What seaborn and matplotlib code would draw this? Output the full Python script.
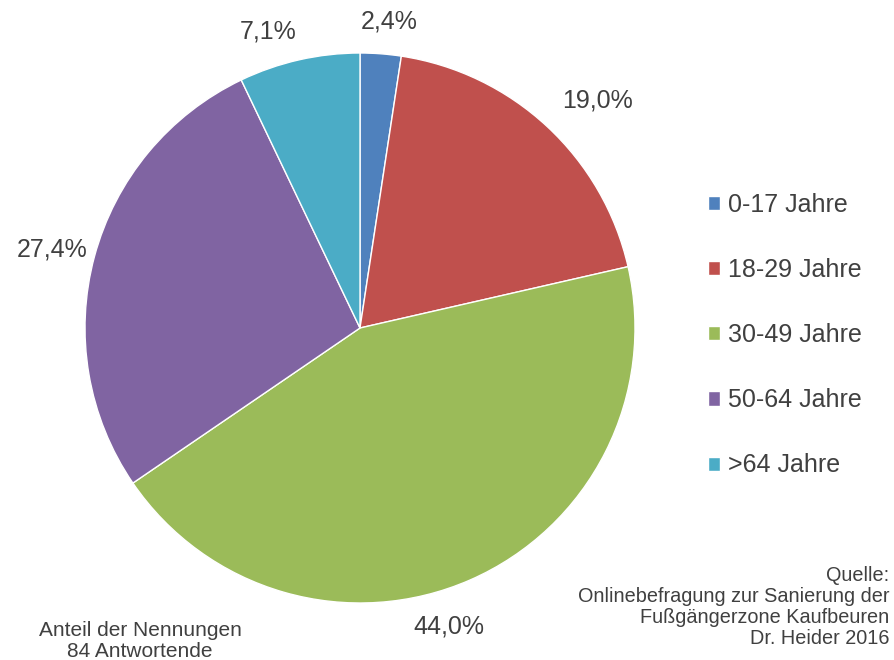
import matplotlib
matplotlib.use("Agg")
import matplotlib.pyplot as plt
import seaborn as sns

sns.set_style("white")
plt.rcParams['font.family'] = ['Liberation Sans', 'DejaVu Sans']

# data
age_groups = ['0-17 Jahre', '18-29 Jahre', '30-49 Jahre', '50-64 Jahre', '>64 Jahre']
shares = [2.4, 19.0, 44.0, 27.4, 7.1]
colors = sns.color_palette(['#4F81BD', '#C0504D', '#9BBB59', '#8064A2', '#4BACC6'])
text_color = '#404040'

# where the percentage labels sit (in units of the pie radius)
label_pos = [(0.105, 1.115), (0.862, 0.829), (0.324, -1.087), (-1.12, 0.284), (-0.335, 1.08)]

fig = plt.figure(figsize=(8.94, 6.60), dpi=100)
ax = fig.add_axes([85 / 894, 57 / 660, 550 / 894, 550 / 660])

wedges, _, pct_texts = ax.pie(
    shares,
    colors=colors,
    startangle=90,
    counterclock=False,
    radius=1.0,
    autopct=lambda p: '{:.1f}%'.format(p * sum(shares) / 100).replace('.', ','),
    pctdistance=1.14,
    wedgeprops=dict(edgecolor='white', linewidth=1),
    textprops=dict(fontsize=18, color=text_color),
)
for t, pos in zip(pct_texts, label_pos):
    t.set_position(pos)
ax.set_xlim(-1, 1)
ax.set_ylim(-1, 1)
ax.set_aspect('equal')

leg = fig.legend(
    wedges, age_groups,
    loc='center left',
    bbox_to_anchor=(685 / 894, 1 - 335 / 660),
    frameon=False,
    fontsize=18,
    labelcolor=text_color,
    handlelength=0.5,
    handleheight=0.5,
    handletextpad=0.3,
    labelspacing=1.65,
)

fig.text(140 / 894, 1 - 641 / 660, 'Anteil der Nennungen\n84 Antwortende',
         ha='center', va='center', fontsize=15, color=text_color,
         linespacing=1.1)
fig.text(889 / 894, 1 - 607 / 660,
         'Quelle:\nOnlinebefragung zur Sanierung der\nFußgängerzone Kaufbeuren\nDr. Heider 2016',
         ha='right', va='center', fontsize=14.3, color=text_color,
         linespacing=1.15)

fig.savefig('out.png', dpi=100)
